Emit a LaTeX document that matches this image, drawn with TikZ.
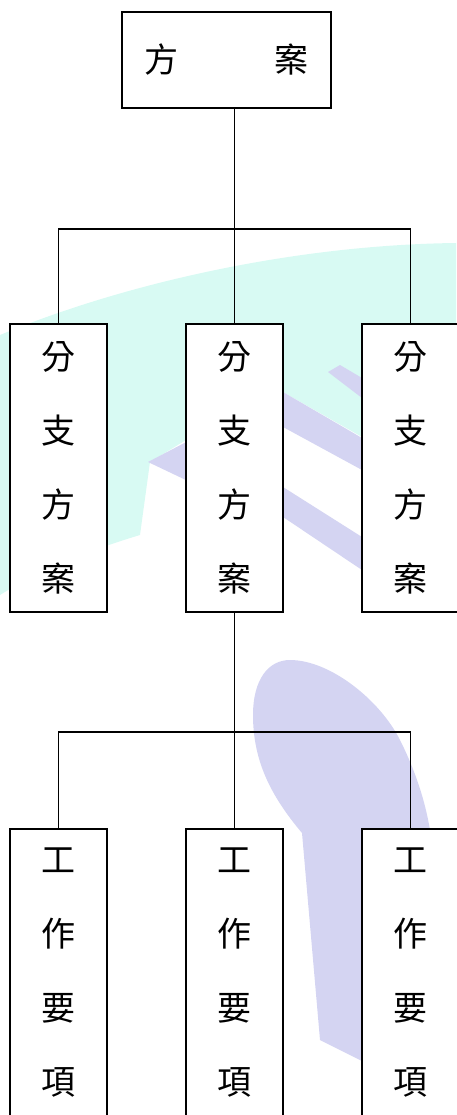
\documentclass[tikz,border=0pt]{standalone}
\usepackage{fontspec}
\newfontfamily\cjk{Noto Sans CJK TC}
\usepackage{tikz}
\usetikzlibrary{positioning, calc}
\definecolor{wmcyan}{RGB}{216,250,243}
\definecolor{wmlilac}{RGB}{212,212,242}

\begin{document}
\begin{tikzpicture}[
    x=1pt, y=-1pt,
    node distance=79pt,
    plan/.style={rectangle, draw, line width=1.8pt, fill=white, outer sep=0pt, inner sep=0pt, minimum width=209pt, minimum height=96pt, font=\cjk\fontsize{34}{40}\selectfont},
    branch/.style={rectangle, draw, line width=1.8pt, fill=white, outer sep=0pt, inner sep=0pt, minimum width=97pt, minimum height=288pt, align=center, font=\cjk\fontsize{34}{74}\selectfont},
    link/.style={line width=1.8pt},
    mark cyan/.style={fill=wmcyan},
    mark lilac/.style={fill=wmlilac}
]
\useasboundingbox (0,0) rectangle (456,1115);

% Watermark in the background
\fill[mark cyan] (0,335) .. controls (120,285) and (290,245) .. (456,243) -- (456,440) -- (362,437) -- (283,392) -- (186,440) -- (150,462) -- (140,535) .. controls (90,550) and (40,570) .. (0,595) -- cycle;
\fill[mark lilac] (148,462) -- (190,440) -- (190,482) -- cycle;
\fill[mark lilac] (283,392) -- (362,438) -- (362,470) -- (283,427) -- cycle;
\fill[mark lilac] (328,372) -- (340,365) -- (362,378) -- (362,398) -- cycle;
\fill[mark lilac] (283,487) -- (362,537) -- (362,570) -- (283,517) -- cycle;
\fill[mark lilac] (302,833) .. controls (270,795) and (253,760) .. (253,715) .. controls (253,680) and (268,660) .. (290,660) .. controls (330,660) and (380,700) .. (400,740) .. controls (415,770) and (425,800) .. (430,830) -- (400,1080) -- (320,1040) -- cycle;

% Main node
\node[plan] (P) at (226.5,60) {方\hspace{2.8em}案};

% Branch plans
\node[branch, below=216pt of P, xshift=8pt] (B2) {分\\支\\方\\案};
\node[branch, left=of B2] (B1) {分\\支\\方\\案};
\node[branch, right=of B2] (B3) {分\\支\\方\\案};

% Work items
\node[branch, below=217pt of B2] (W2) {工\\作\\要\\項};
\node[branch, left=of W2] (W1) {工\\作\\要\\項};
\node[branch, right=of W2] (W3) {工\\作\\要\\項};

% Connectors
\coordinate[above=95pt of B2.north] (J1);
\coordinate[above=97pt of W2.north] (J2);
\draw[link] (P.south -| B2.north) -- (B2.north);
\draw[link] (B1.north) -- (B1.north |- J1) -- (B3.north |- J1) -- (B3.north);
\draw[link] (B2.south) -- (W2.north);
\draw[link] (W1.north) -- (W1.north |- J2) -- (W3.north |- J2) -- (W3.north);

\end{tikzpicture}
\end{document}
